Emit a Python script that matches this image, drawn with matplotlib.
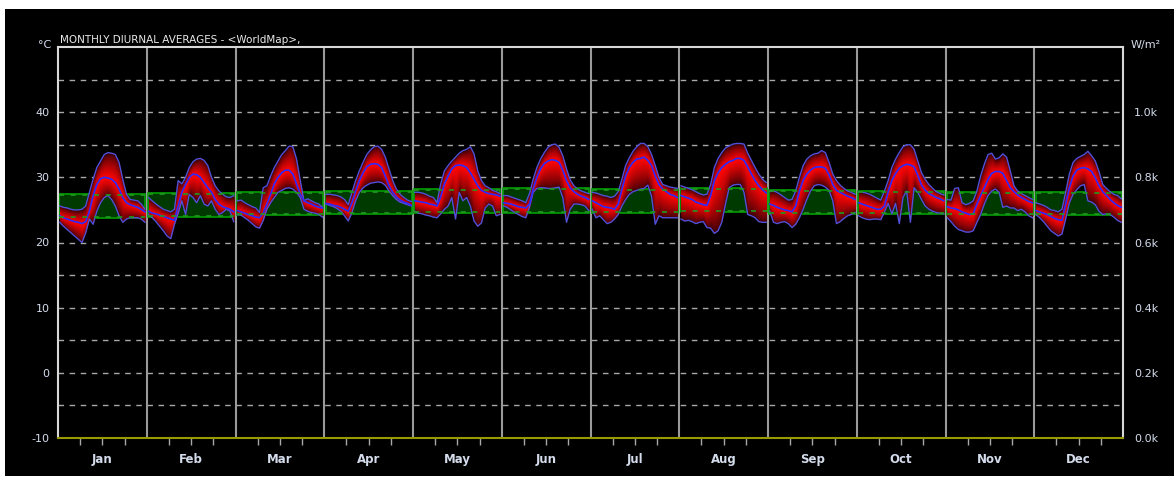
import numpy as np
import matplotlib
matplotlib.use("Agg")
import matplotlib.pyplot as plt
from matplotlib.patches import Rectangle

months = ["Jan", "Feb", "Mar", "Apr", "May", "Jun", "Jul", "Aug", "Sep", "Oct", "Nov", "Dec"]
left_ticks = [-10, 0, 10, 20, 30, 40]
right_ticks = [0, 200, 400, 600, 800, 1000]
right_labels = ["0.0k", "0.2k", "0.4k", "0.6k", "0.8k", "1.0k"]

# hourly (0..23) maximum temperatures per month
t_max = {
    "Jan": [25.6,25.4,25.3,25.1,25.0,25.0,25.1,25.6,27.7,29.7,31.5,32.5,33.5,33.8,33.7,33.5,32.3,29.7,27.4,26.6,26.5,26.4,25.9,25.1],
    "Feb": [26.9,26.4,25.9,25.5,25.1,24.9,24.7,25.1,29.5,29.0,30.0,31.5,32.4,32.8,32.9,32.6,31.8,30.0,28.7,27.9,27.4,27.0,26.9,27.2],
    "Mar": [26.4,26.5,26.1,25.8,25.5,25.3,24.6,28.4,28.7,30.2,31.5,32.5,33.5,34.1,34.8,34.7,32.8,29.5,26.4,26.7,26.4,26.1,25.9,25.4],
    "Apr": [27.4,27.4,27.3,27.2,27.0,26.6,25.8,27.7,29.5,31.0,32.3,33.5,34.2,34.7,34.8,34.3,33.1,31.3,29.5,28.2,27.4,26.9,26.5,26.3],
    "May": [27.7,27.7,27.6,27.4,27.1,26.9,26.1,29.0,31.0,31.8,32.5,33.1,33.7,34.1,34.3,34.7,33.6,31.0,29.5,28.7,28.4,28.0,27.8,27.5],
    "Jun": [27.2,27.2,27.0,26.8,26.6,26.4,26.1,27.5,29.7,31.5,32.8,33.8,34.6,35.0,35.1,34.6,33.3,31.3,29.6,28.7,28.2,27.9,27.7,27.5],
    "Jul": [27.7,27.6,27.4,27.2,27.1,26.9,27.1,27.8,29.7,31.8,33.0,34.0,34.7,35.2,35.2,34.7,33.5,31.8,30.0,28.9,28.7,28.5,28.4,28.3],
    "Aug": [28.7,28.5,28.3,28.1,27.8,27.5,27.3,27.4,28.9,31.5,32.9,33.8,34.5,34.8,35.1,35.2,35.2,35.1,33.7,32.6,31.5,30.5,29.7,29.2],
    "Sep": [27.8,27.9,27.7,27.3,26.9,26.5,26.6,27.9,30.0,31.8,32.8,33.3,33.6,33.7,34.1,33.8,32.3,30.5,29.5,28.8,28.3,27.9,27.7,27.4],
    "Oct": [27.8,27.7,27.6,27.4,27.1,26.8,26.5,27.9,29.5,31.5,32.8,33.8,34.7,35.0,35.0,34.3,32.5,30.7,29.7,28.9,28.3,27.8,27.5,27.3],
    "Nov": [26.6,26.5,28.3,28.4,26.1,25.8,26.0,26.4,27.9,30.2,32.0,33.5,33.7,32.8,33.0,33.6,33.1,31.0,28.7,27.9,27.5,27.2,26.9,26.6],
    "Dec": [26.1,25.9,25.7,25.4,25.0,24.9,24.7,25.1,27.7,30.5,32.3,32.9,33.2,33.5,34.0,33.3,32.5,30.9,28.9,28.3,27.8,27.4,27.2,26.7],
}
# hourly mean temperatures per month
t_mean = {
    "Jan": [24.1,23.8,23.6,23.4,23.2,23.1,22.9,23.2,24.8,27.2,28.9,29.8,30.0,29.9,29.7,29.2,28.2,26.9,26.1,25.8,25.6,25.4,25.1,24.7],
    "Feb": [24.8,24.5,24.4,24.2,24.0,23.8,23.6,23.4,25.6,27.7,28.9,30.0,30.5,30.4,30.0,29.2,28.4,27.7,26.6,25.9,25.5,25.3,25.1,24.7],
    "Mar": [24.9,24.7,24.5,24.3,24.1,23.9,23.8,24.5,25.9,27.4,29.0,30.0,30.7,31.1,31.1,30.5,29.0,27.4,26.4,26.1,25.9,25.6,25.4,25.3],
    "Apr": [26.0,25.9,25.7,25.6,25.4,25.1,24.8,26.1,27.9,29.5,30.7,31.6,32.0,32.1,32.0,31.5,30.2,28.7,27.7,27.0,26.5,26.2,26.0,25.7],
    "May": [26.4,26.3,26.2,26.1,25.9,25.8,25.6,27.0,29.0,30.2,31.3,31.8,31.9,31.8,31.5,30.7,29.7,28.7,28.0,27.7,27.5,27.4,27.3,27.1],
    "Jun": [26.1,26.0,25.9,25.7,25.5,25.4,25.3,25.9,28.2,30.0,31.3,32.1,32.5,32.7,32.6,32.3,31.1,29.5,28.4,27.8,27.4,27.1,26.9,26.6],
    "Jul": [26.4,26.1,25.8,25.5,25.4,25.3,25.1,25.9,28.2,30.2,31.5,32.3,32.8,32.9,33.1,32.6,31.8,30.2,28.9,28.2,27.8,27.4,27.2,26.9],
    "Aug": [27.2,27.0,26.8,26.6,26.2,26.0,25.8,25.7,27.2,29.5,30.7,31.5,32.0,32.4,32.6,32.9,32.9,32.6,31.6,30.5,29.5,28.7,28.1,27.6],
    "Sep": [25.9,25.7,25.4,25.2,25.0,24.9,24.7,25.6,27.9,29.5,30.5,31.1,31.5,31.6,31.6,31.4,30.4,28.9,28.0,27.7,27.4,27.1,26.9,26.6],
    "Oct": [26.1,25.9,25.7,25.5,25.3,25.1,25.1,25.6,27.8,29.5,30.6,31.4,31.8,32.0,31.9,31.6,30.3,28.8,28.0,27.5,27.2,26.9,26.7,26.4],
    "Nov": [25.5,25.3,25.2,25.0,24.7,24.5,24.3,24.4,25.9,27.2,28.4,29.7,30.6,30.9,30.9,30.6,29.5,28.4,27.8,27.3,26.9,26.6,26.3,26.1],
    "Dec": [24.9,24.7,24.5,24.3,24.0,23.7,23.5,23.4,25.9,28.4,30.2,31.1,31.4,31.5,31.3,30.9,29.9,28.7,27.8,27.2,26.6,26.1,25.7,25.4],
}
# hourly minimum temperatures per month
t_min = {
    "Jan": [23.1,22.5,22.0,21.5,21.0,20.5,20.0,21.5,23.6,22.8,24.8,26.1,26.9,27.2,26.6,25.6,24.1,23.1,23.6,23.8,23.8,23.8,23.6,23.1],
    "Feb": [24.3,23.8,23.2,22.5,21.8,21.0,20.6,22.8,24.5,26.4,24.3,27.4,26.9,26.1,27.2,25.9,25.6,26.4,25.1,24.3,24.6,25.1,24.8,23.2],
    "Mar": [24.3,24.2,23.8,23.4,22.9,22.4,22.2,23.4,25.1,26.1,26.9,27.7,28.0,28.3,28.4,28.2,27.7,26.9,25.1,24.8,24.6,24.5,24.3,23.9],
    "Apr": [25.9,25.7,25.5,25.2,24.8,24.1,23.3,24.6,26.4,27.7,28.4,28.8,29.1,29.2,29.3,29.2,28.8,27.9,27.2,26.6,26.2,26.0,25.8,25.6],
    "May": [24.8,24.5,24.4,24.2,24.1,23.9,23.8,24.4,25.1,25.6,26.9,23.6,27.7,26.4,26.9,25.6,23.3,22.5,23.0,25.3,25.9,25.6,24.1,24.3],
    "Jun": [25.6,25.4,25.0,24.6,24.3,24.0,23.8,25.4,27.7,28.3,28.4,28.4,28.3,28.3,28.4,28.5,26.9,23.1,25.1,25.9,25.9,25.8,25.6,24.9],
    "Jul": [25.1,23.8,24.1,23.5,22.9,23.1,23.6,24.3,25.6,26.6,27.4,27.8,28.0,28.2,28.3,28.8,27.1,22.8,24.1,23.8,23.8,23.8,23.8,23.8],
    "Aug": [23.6,23.3,23.4,23.2,22.9,23.1,23.2,22.3,22.2,21.4,21.8,23.1,25.9,28.4,28.8,28.9,28.9,27.7,24.3,24.1,23.8,23.2,23.1,23.1],
    "Sep": [24.8,23.1,22.9,23.1,23.2,22.9,22.3,22.8,23.8,25.1,26.6,27.9,28.7,28.9,28.8,28.5,28.0,26.4,22.9,23.2,23.7,24.1,24.3,24.6],
    "Oct": [24.1,23.8,23.6,23.5,23.6,23.6,23.5,24.7,26.0,24.4,26.0,22.9,26.9,27.9,23.1,28.4,27.7,26.6,25.6,25.1,24.8,24.6,24.5,24.4],
    "Nov": [23.8,23.2,22.5,22.0,21.8,21.6,21.6,21.8,23.1,24.3,25.9,27.2,27.9,28.2,27.7,25.4,25.6,25.3,25.3,24.9,25.1,24.7,24.1,23.8],
    "Dec": [24.3,23.8,23.2,22.5,21.8,21.4,21.0,21.3,23.6,26.1,27.4,28.1,28.7,28.9,26.4,26.2,25.8,24.8,24.3,24.4,24.3,23.9,23.4,23.1],
}
# comfort band per month (upper / lower, °C)
comfort_upper = [27.4, 27.6, 27.8, 27.9, 28.2, 28.3, 28.2, 28.3, 28.0, 27.9, 27.8, 27.7]
comfort_lower = [23.8, 23.9, 24.2, 24.4, 24.6, 24.6, 24.6, 24.7, 24.4, 24.4, 24.2, 24.2]

W, H = 1174, 479
fig = plt.figure(figsize=(W / 100, H / 100), dpi=100, facecolor="white")
fig.patches.append(Rectangle((5 / W, 3 / H), (W - 5) / W, (H - 12) / H,
                             transform=fig.transFigure, facecolor="black",
                             edgecolor="none", zorder=-10))

ax = fig.add_axes([58 / W, (H - 438) / H, (1123 - 58) / W, (438 - 47) / H])
ax.set_facecolor("black")
ax.set_xlim(0, 12)
ax.set_ylim(-10, 50)

# grid
for yv in np.arange(-5, 50, 5):
    ax.axhline(yv, color="#a8a8a8", lw=1, ls=(0, (4, 4)), zorder=0.5)
for m in range(1, 12):
    ax.axvline(m, color="#9a9a9a", lw=1.5, zorder=0.8)

dark = np.array([0.22, 0.0, 0.02])
bright = np.array([1.0, 0.02, 0.02])
nlayers = 28
hours = np.arange(24)
for i, mname in enumerate(months):
    x = i + 0.02 + hours / 23 * 0.96
    mx = np.array(t_max[mname])
    mn = np.array(t_min[mname])
    me = np.array(t_mean[mname])
    mx = np.maximum(mx, me)
    mn = np.minimum(mn, me)
    # comfort band
    ax.add_patch(Rectangle((i + 0.015, comfort_lower[i]), 0.97,
                           comfort_upper[i] - comfort_lower[i],
                           facecolor="#003a00", edgecolor="#00a000", lw=1.2, zorder=1))
    for k in range(nlayers):
        f = 1 - k / nlayers
        t = (k / (nlayers - 1)) ** 0.75
        col = dark + (bright - dark) * t
        ax.fill_between(x, me - f * (me - mn), me + f * (mx - me),
                        color=col, lw=0, zorder=2)
    ax.plot(x, mx, color="#5050d8", lw=1, zorder=3)
    ax.plot(x, mn, color="#5050d8", lw=1, zorder=3)
    ax.plot(x, me, color="#2a2aff", lw=1.2, zorder=3)
    ax.hlines([comfort_upper[i] - 0.15, comfort_lower[i] + 0.15], i + 0.015, i + 0.985,
              colors="#1f9a1f", lw=1.2, linestyles=(0, (3, 4)), zorder=4)

for side in ["left", "right", "top"]:
    ax.spines[side].set_color("#d8d8d8")
    ax.spines[side].set_linewidth(1.5)
ax.spines["bottom"].set_color("#9a9a00")
ax.spines["bottom"].set_linewidth(1.5)

label_col = "#d4dcec"
quarters = [m + q for m in range(12) for q in (0.25, 0.5, 0.75)]
ax.set_xticks(quarters)
ax.set_xticklabels([])
ax.tick_params(axis="x", direction="out", length=5, color="#a8a8a8", width=1)
for i, mname in enumerate(months):
    ax.text(i + 0.5, -13.3, mname, color=label_col, fontsize=8.5, ha="center",
            va="center", fontweight="bold", clip_on=False)

ax.set_yticks(left_ticks)
ax.set_yticklabels([str(v) for v in left_ticks], color=label_col, fontsize=8)
ax.tick_params(axis="y", length=0, pad=6)

ax2 = ax.twinx()
ax2.set_ylim(0, 1200)
ax2.set_yticks(right_ticks)
ax2.set_yticklabels(right_labels, color=label_col, fontsize=8)
ax2.tick_params(axis="y", length=0, pad=8)
for s in ax2.spines.values():
    s.set_visible(False)

fig.text(38 / W, 1 - 45 / H, "°C", color=label_col, fontsize=8, va="center", ha="left")
fig.text(60 / W, 1 - 40 / H, "MONTHLY DIURNAL AVERAGES - <WorldMap>,", color="#e8e8e8",
         fontsize=7.5, va="center", ha="left")
fig.text(1131 / W, 1 - 45 / H, "W/m²", color=label_col, fontsize=8, va="center", ha="left")

fig.savefig("out.png", dpi=100, facecolor="white")
